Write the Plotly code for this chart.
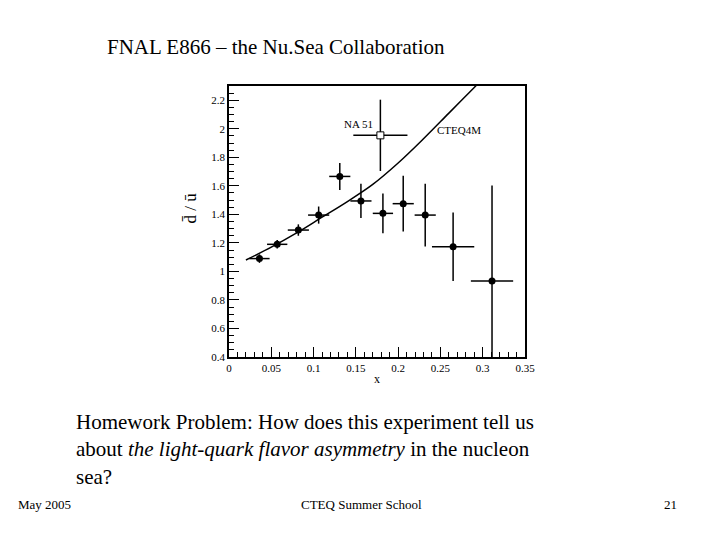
import plotly.graph_objects as go

# E866 d-bar/u-bar data
x = [0.036, 0.057, 0.082, 0.106, 0.131, 0.156, 0.182, 0.206, 0.232, 0.265, 0.311]
y = [1.09, 1.19, 1.29, 1.395, 1.666, 1.494, 1.407, 1.475, 1.395, 1.173, 0.933]
xerr = [0.012, 0.012, 0.0125, 0.0125, 0.0125, 0.0125, 0.012, 0.0125, 0.0125, 0.025, 0.025]
yerr = [0.03, 0.03, 0.04, 0.06, 0.095, 0.12, 0.14, 0.195, 0.22, 0.24, 0.67]
yerr_minus = [0.03, 0.03, 0.04, 0.06, 0.095, 0.12, 0.14, 0.195, 0.22, 0.24, 0.6]

# NA51 point
na51_x = [0.179]
na51_y = [1.954]
na51_xerr = [0.032]
na51_yerr = [0.25]

# CTEQ4M curve
cteq_x = [0.02, 0.05, 0.08, 0.11, 0.14, 0.17, 0.2, 0.23, 0.26, 0.29, 0.32]
cteq_y = [1.08, 1.17, 1.27, 1.38, 1.49, 1.61, 1.76, 1.93, 2.11, 2.29, 2.47]

serif = "Liberation Serif, Times New Roman, serif"

fig = go.Figure()
fig.add_trace(go.Scatter(x=cteq_x, y=cteq_y, mode="lines", line=dict(color="black", width=1.5),
                         line_shape="spline", showlegend=False))
fig.add_trace(go.Scatter(x=x, y=y, mode="markers",
                         marker=dict(color="black", size=7),
                         error_x=dict(type="data", array=xerr, color="black", thickness=1.5, width=0),
                         error_y=dict(type="data", array=yerr, arrayminus=yerr_minus, color="black", thickness=1.5, width=0),
                         showlegend=False))
fig.add_trace(go.Scatter(x=na51_x, y=na51_y, mode="markers",
                         marker=dict(color="white", size=7, symbol="square", line=dict(color="black", width=1)),
                         error_x=dict(type="data", array=na51_xerr, color="black", thickness=1.5, width=0),
                         error_y=dict(type="data", array=na51_yerr, color="black", thickness=1.5, width=0),
                         showlegend=False))

axis_common = dict(showgrid=False, zeroline=False, showline=True, linecolor="black", linewidth=1.5,
                   mirror=True, ticks="inside", ticklen=10, tickcolor="black",
                   tickfont=dict(family=serif, size=11, color="black"),
                   minor=dict(ticks="inside", ticklen=5, tickcolor="black"))
fig.update_xaxes(range=[0, 0.35], tickvals=[0, 0.05, 0.1, 0.15, 0.2, 0.25, 0.3, 0.35],
                 ticktext=["0", "0.05", "0.1", "0.15", "0.2", "0.25", "0.3", "0.35"],
                 minor_dtick=0.01, **axis_common)
fig.update_yaxes(range=[0.4, 2.3], tickvals=[0.4, 0.6, 0.8, 1, 1.2, 1.4, 1.6, 1.8, 2, 2.2],
                 ticktext=["0.4", "0.6", "0.8", "1", "1.2", "1.4", "1.6", "1.8", "2", "2.2"],
                 minor_dtick=0.05, **axis_common)

ann = [
    dict(x=0.159, y=1.144, text="FNAL E866 – the Nu.Sea Collaboration", font=dict(size=21)),
    dict(x=0.5, y=-0.08, text="x", font=dict(size=12)),
    dict(x=-0.13, y=0.55, text="d̄ / ū", font=dict(size=17), textangle=-90),
    dict(x=0.436, y=0.86, text="NA 51", font=dict(size=11)),
    dict(x=0.777, y=0.838, text="CTEQ4M", font=dict(size=11)),
    dict(x=-0.524, y=-0.19, xanchor="left", yanchor="top", align="left",
         text="Homework Problem: How does this experiment tell us<br>about <i>the light-quark flavor asymmetry</i> in the nucleon<br>sea?",
         font=dict(size=21)),
    dict(x=-0.623, y=-0.545, text="May 2005", font=dict(size=13)),
    dict(x=0.449, y=-0.545, text="CTEQ Summer School", font=dict(size=13)),
    dict(x=1.493, y=-0.545, text="21", font=dict(size=13)),
]
for a in ann:
    a.setdefault("xref", "paper")
    a.setdefault("yref", "paper")
    a.setdefault("xanchor", "center")
    a.setdefault("yanchor", "middle")
    a.setdefault("showarrow", False)
    a["font"] = dict(family=serif, color="black", **a["font"])
fig.update_layout(annotations=ann, width=720, height=540,
                  margin=dict(l=221, r=203, t=78, b=191),
                  plot_bgcolor="white", paper_bgcolor="white")

fig.write_html("out.html")
